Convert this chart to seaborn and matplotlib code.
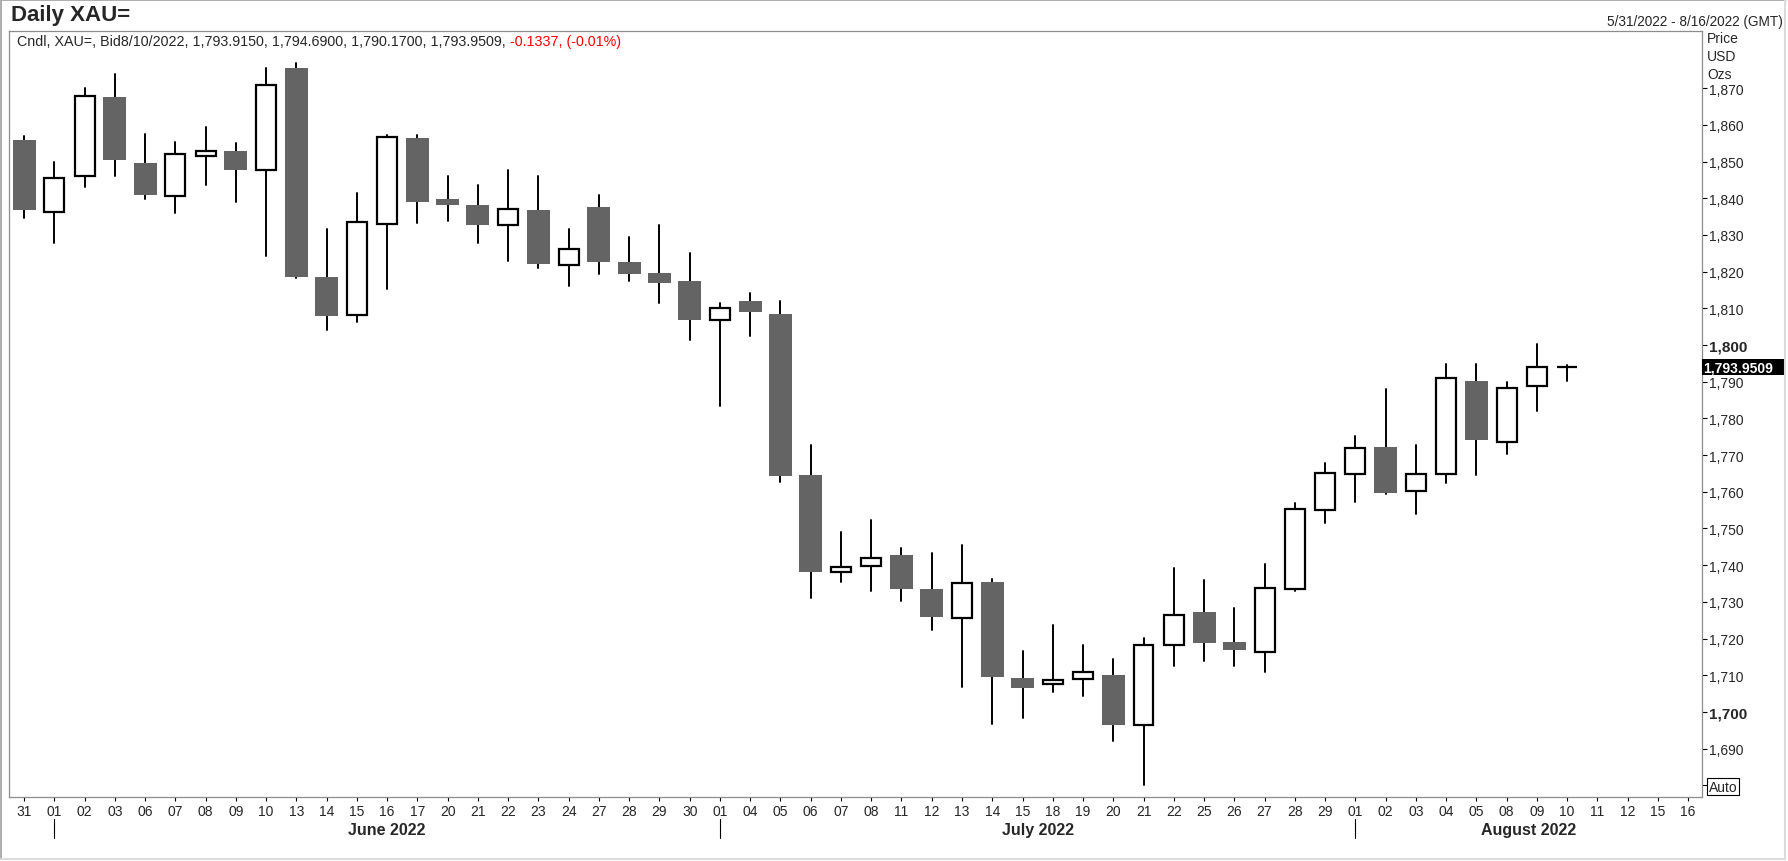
import matplotlib
matplotlib.use("Agg")
import matplotlib.pyplot as plt
import matplotlib.transforms as mtransforms
from matplotlib.patches import Rectangle
from matplotlib.lines import Line2D
import seaborn as sns
import numpy as np
import pandas as pd

# trading-day slots shown on the x axis (31 May .. 16 Aug 2022)
days = ["31", "01", "02", "03", "06", "07", "08", "09", "10", "13", "14", "15",
        "16", "17", "20", "21", "22", "23", "24", "27", "28", "29", "30",
        "01", "04", "05", "06", "07", "08", "11", "12", "13", "14", "15", "18",
        "19", "20", "21", "22", "25", "26", "27", "28", "29",
        "01", "02", "03", "04", "05", "08", "09", "10", "11", "12", "15", "16"]
months = ["June 2022", "July 2022", "August 2022"]
month_start = [1, 23, 44]

# daily OHLC (last candle from the header line)
opens = [1856.0, 1836.3, 1846.1, 1867.7, 1849.7, 1840.7, 1851.6, 1853.0, 1847.8, 1875.6,
         1818.5, 1808.2, 1833.1, 1856.5, 1839.9, 1838.2, 1832.7, 1836.9, 1821.8, 1837.7,
         1822.7, 1819.7, 1817.5, 1806.8, 1812.0, 1808.5, 1764.6, 1738.0, 1739.7, 1742.7,
         1733.5, 1725.7, 1735.5, 1709.3, 1707.6, 1709.0, 1710.0, 1696.5, 1718.2, 1727.2,
         1719.1, 1716.4, 1733.6, 1755.0, 1764.9, 1772.2, 1760.1, 1764.9, 1790.2, 1773.6,
         1788.9, 1793.915]
highs = [1857.0, 1849.9, 1870.1, 1874.0, 1857.6, 1855.3, 1859.5, 1855.1, 1875.6, 1877.0,
         1831.7, 1841.4, 1857.3, 1857.2, 1846.1, 1843.7, 1847.8, 1846.1, 1831.7, 1841.0,
         1829.5, 1832.8, 1825.1, 1811.5, 1814.2, 1812.0, 1772.8, 1749.0, 1752.3, 1744.6,
         1743.2, 1745.4, 1736.3, 1716.7, 1723.8, 1718.3, 1714.5, 1720.1, 1739.1, 1736.0,
         1728.2, 1740.2, 1756.9, 1767.8, 1775.1, 1787.9, 1772.7, 1794.9, 1794.9, 1789.9,
         1800.3, 1794.69]
lows = [1834.5, 1827.7, 1843.0, 1846.2, 1839.7, 1835.9, 1843.5, 1838.9, 1824.4, 1818.4,
        1804.0, 1806.4, 1815.4, 1833.2, 1833.7, 1827.7, 1822.8, 1820.9, 1816.0, 1819.4,
        1817.5, 1811.5, 1801.4, 1783.5, 1802.5, 1762.8, 1731.1, 1735.4, 1733.0, 1730.3,
        1722.2, 1706.9, 1696.8, 1698.2, 1705.3, 1704.2, 1692.2, 1680.1, 1712.4, 1714.0,
        1712.4, 1711.0, 1732.9, 1751.6, 1757.3, 1759.3, 1754.0, 1762.5, 1764.7, 1770.4,
        1782.1, 1790.17]
closes = [1836.9, 1845.4, 1868.0, 1850.5, 1840.8, 1852.0, 1853.0, 1847.6, 1870.8, 1818.6,
          1808.0, 1833.4, 1856.6, 1839.1, 1838.3, 1832.6, 1837.2, 1822.1, 1826.1, 1822.7,
          1819.4, 1817.0, 1806.9, 1810.2, 1809.0, 1764.4, 1738.2, 1739.6, 1741.9, 1733.4,
          1725.8, 1735.1, 1709.5, 1706.6, 1708.8, 1711.0, 1696.3, 1718.3, 1726.3, 1718.7,
          1716.8, 1733.7, 1755.3, 1765.2, 1771.8, 1759.7, 1764.9, 1791.1, 1774.2, 1788.4,
          1794.1, 1793.9509]
last_price = 1793.9509
price_ticks = [1680, 1690, 1700, 1710, 1720, 1730, 1740, 1750, 1760, 1770, 1780,
               1790, 1800, 1810, 1820, 1830, 1840, 1850, 1860, 1870]

sns.set_style("white")
plt.rcParams["font.family"] = ["Liberation Sans", "DejaVu Sans"]

W, H = 1788, 862
fig = plt.figure(figsize=(W / 100, H / 100), dpi=100)
ax = fig.add_axes([9 / W, 1 - 798 / H, (1702 - 9) / W, (798 - 32) / H])

o = np.array(opens)
c = np.array(closes)
slots = np.arange(len(o))
up = c >= o

wicks = pd.DataFrame({
    "slot": np.repeat(slots, 2),
    "price": np.column_stack([lows, highs]).ravel(),
})
sns.lineplot(data=wicks, x="slot", y="price", units="slot", estimator=None,
             color="black", linewidth=1.4, ax=ax, zorder=1)

ax.bar(slots[~up], (c - o)[~up], bottom=o[~up], width=0.76,
       color="#646464", linewidth=0, zorder=2)
ax.bar(slots[up], (c - o)[up], bottom=o[up], width=0.66,
       facecolor="white", edgecolor="black", linewidth=1.6, zorder=2)

ax.set_xlim(-0.5, 55.46)
ax.set_ylim(1676.8, 1885.6)
ax.set_xlabel("")
ax.set_ylabel("")

for s in ax.spines.values():
    s.set_color("#8c8c8c")
    s.set_linewidth(0.9)

# x axis: day numbers
ax.set_xticks(range(len(days)))
ax.set_xticklabels(days, fontsize=10)
ax.tick_params(axis="x", bottom=True, length=3, width=0.8, color="black", pad=2)

# y axis on the right
ax.yaxis.tick_right()
ax.set_yticks(price_ticks)
labels = ["Auto" if v == 1680 else f"{v:,}" for v in price_ticks]
ax.set_yticklabels(labels, fontsize=10)
ax.tick_params(axis="y", left=False, right=True, length=3.6, width=0.8,
               color="black", pad=1.5)
for lbl, v in zip(ax.get_yticklabels(), price_ticks):
    if v in (1700, 1800):
        lbl.set_fontweight("bold")
        lbl.set_fontsize(11)
    if v == 1680:
        lbl.set_bbox(dict(facecolor="white", edgecolor="black",
                          boxstyle="square,pad=0.12", linewidth=0.8))

# month labels and separators
xt = ax.get_xaxis_transform()
edges = month_start + [ax.get_xlim()[1]]
for i, name in enumerate(months):
    ax.text((edges[i] + edges[i + 1]) / 2, -0.042, name, transform=xt,
            ha="center", va="center", fontsize=11.5, fontweight="bold")
    ax.add_line(Line2D([month_start[i]] * 2, [-0.029, -0.054], transform=xt,
                       color="black", linewidth=0.8, clip_on=False))

# last price marker
yt = mtransforms.blended_transform_factory(ax.transAxes, ax.transData)
box_h = 16 / 766 * (1885.6 - 1676.8)
ax.add_patch(Rectangle((1.0, last_price - box_h / 2), 83 / 1693, box_h,
                       transform=yt, facecolor="black", edgecolor="none",
                       clip_on=False, zorder=5))
ax.text(1.0 + 1 / 1693, last_price, f"{last_price:,.4f}", transform=yt,
        ha="left", va="center", color="white", fontsize=10,
        fontweight="bold", zorder=6, clip_on=False)

# header line inside the plot
info = ax.text(8 / 1693, 1 - 10 / 766,
               "Cndl, XAU=, Bid8/10/2022, 1,793.9150, 1,794.6900, 1,790.1700, 1,793.9509, ",
               transform=ax.transAxes, ha="left", va="center", fontsize=10.3)
fig.canvas.draw()
bb = info.get_window_extent()
x1 = ax.transAxes.inverted().transform((bb.x1, bb.y0))[0]
ax.text(x1, 1 - 10 / 766, "-0.1337, (-0.01%)", transform=ax.transAxes,
        ha="left", va="center", fontsize=10.3, color="#ff0000")

# figure texts
fig.text(11 / W, 1 - 16 / H, "Daily XAU=", ha="left", va="center",
         fontsize=16, fontweight="bold")
fig.text(1783 / W, 1 - 22 / H, "5/31/2022 - 8/16/2022 (GMT)", ha="right",
         va="center", fontsize=9.8)
for k, t in enumerate(["Price", "USD", "Ozs"]):
    fig.text(1707 / W, 1 - (39 + 18 * k) / H, t, ha="left", va="center",
             fontsize=10)

# outer frame
fig.add_artist(Line2D([0.0005, 0.0005, 0.999], [0.0025, 0.999, 0.999],
                      transform=fig.transFigure, color="#a0a0a0", linewidth=1.2))
fig.add_artist(Line2D([0.0005, 0.9985, 0.9985], [0.0025, 0.0025, 0.999],
                      transform=fig.transFigure, color="#dcdcdc", linewidth=1.5))

fig.savefig("out.png", dpi=100, facecolor="white")
